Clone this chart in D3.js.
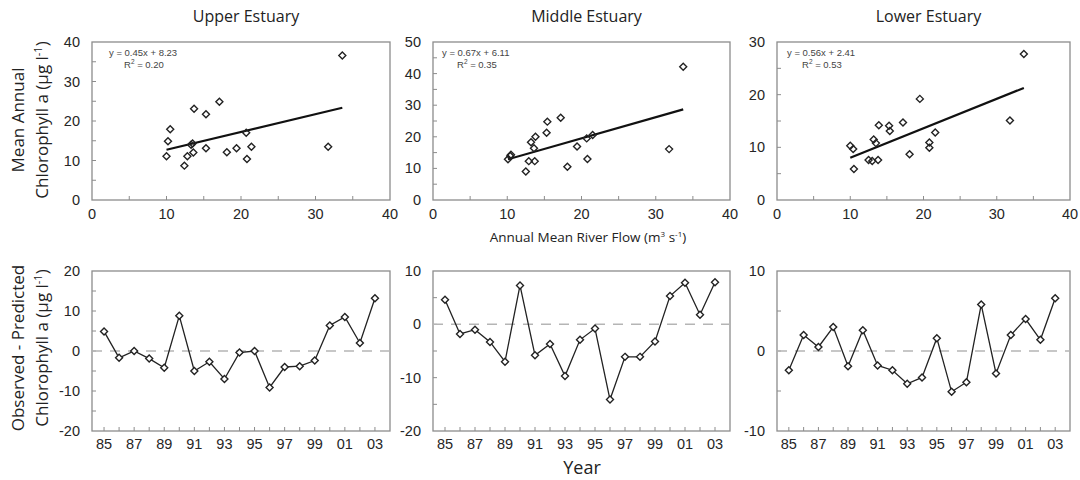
<!DOCTYPE html>
<html>
<head>
<meta charset="utf-8">
<script src="https://cdn.jsdelivr.net/npm/d3@7"></script>
<style>
  html, body { margin: 0; padding: 0; background: #fff; }
  .tick-label { font-family: "Liberation Sans", Arial, sans-serif; font-size: 14.5px; fill: #262626; }
  .title { font-family: "Open Sans", "Noto Sans", sans-serif; font-size: 16px; fill: #222; }
  .eq { font-family: "Liberation Sans", Arial, sans-serif; font-size: 9.5px; fill: #444; }
</style>
</head>
<body>
<div id="chart"></div>
<script>
// estuary panels
const panelNames = ["Upper Estuary", "Middle Estuary", "Lower Estuary"];

// scatter: annual mean river flow vs mean annual chlorophyll a
const flowUpper = [10.0, 10.2, 10.5, 12.4, 12.8, 13.3, 13.5, 13.6, 13.7, 15.3, 15.3, 17.1, 18.1, 19.4, 20.7, 20.8, 21.4, 31.7, 33.6];
const chlUpper  = [11.1, 14.9, 17.9, 8.7, 11.1, 14.0, 14.3, 12.0, 23.1, 13.1, 21.7, 24.9, 12.1, 13.1, 17.0, 10.4, 13.5, 13.5, 36.6];
const flowMiddle = [10.1, 10.4, 10.5, 12.5, 12.9, 13.2, 13.6, 13.7, 13.8, 15.3, 15.4, 17.2, 18.1, 19.4, 20.7, 20.8, 21.5, 31.8, 33.7];
const chlMiddle  = [12.9, 13.9, 14.3, 9.0, 12.3, 18.3, 16.4, 12.3, 20.0, 21.3, 24.8, 26.0, 10.5, 16.9, 19.5, 13.0, 20.6, 16.1, 42.2];
const flowLower = [10.0, 10.4, 10.5, 12.5, 13.0, 13.2, 13.5, 13.8, 13.9, 15.3, 15.4, 17.2, 18.1, 19.5, 20.8, 20.8, 21.6, 31.8, 33.7];
const chlLower  = [10.3, 9.7, 5.9, 7.6, 7.4, 11.5, 10.8, 7.6, 14.2, 14.1, 13.1, 14.7, 8.7, 19.2, 10.9, 9.9, 12.8, 15.1, 27.7];

// regression fits (slope, intercept, r2)
const slopes = [0.45, 0.67, 0.56];
const intercepts = [8.23, 6.11, 2.41];
const rSquared = ["0.20", "0.35", "0.53"];

// residuals: observed - predicted
const years = [1985, 1986, 1987, 1988, 1989, 1990, 1991, 1992, 1993, 1994, 1995, 1996, 1997, 1998, 1999, 2000, 2001, 2002, 2003];
const resUpper  = [4.9, -1.7, 0.0, -1.9, -4.2, 8.8, -5.0, -2.7, -7.0, -0.4, 0.0, -9.1, -4.0, -3.8, -2.4, 6.4, 8.5, 2.0, 13.2];
const resMiddle = [4.6, -1.8, -1.0, -3.3, -7.0, 7.3, -5.8, -3.7, -9.7, -2.9, -0.8, -14.1, -6.1, -6.1, -3.2, 5.3, 7.8, 1.8, 7.9];
const resLower  = [-2.4, 2.0, 0.5, 3.0, -1.9, 2.6, -1.8, -2.4, -4.1, -3.3, 1.6, -5.1, -3.9, 5.8, -2.8, 2.0, 4.0, 1.4, 6.6];

const yearTicks = [1985, 1987, 1989, 1991, 1993, 1995, 1997, 1999, 2001, 2003];
const scatterYMax = [40, 50, 30];
const resDomains = [[-20, 20], [-20, 10], [-10, 10]];

const flows = [flowUpper, flowMiddle, flowLower];
const chls = [chlUpper, chlMiddle, chlLower];
const residuals = [resUpper, resMiddle, resLower];

const width = 1080, height = 480;
const svg = d3.select("#chart").append("svg")
  .attr("width", width).attr("height", height);

const panelX = [[92, 390], [433, 730], [777, 1070]];
const topY = [42, 200], botY = [271, 431];
const eqOffset = [17, 9, 10];
const frameColor = "#8c8c8c";

const diamond = "M0,-3.5L3.5,0L0,3.5L-3.5,0Z";

function frame(g, x0, x1, y0, y1) {
  g.append("rect")
    .attr("x", x0).attr("y", y0)
    .attr("width", x1 - x0).attr("height", y1 - y0)
    .attr("fill", "none").attr("stroke", frameColor).attr("stroke-width", 1.3);
}

function ticksInside(g, x, y, xTicks, yTicks, x0, y1) {
  g.selectAll(".xt").data(xTicks).enter().append("line")
    .attr("x1", d => x(d)).attr("x2", d => x(d))
    .attr("y1", y1).attr("y2", y1 - 4)
    .attr("stroke", frameColor).attr("stroke-width", 1);
  g.selectAll(".yt").data(yTicks).enter().append("line")
    .attr("x1", x0).attr("x2", x0 + 4)
    .attr("y1", d => y(d)).attr("y2", d => y(d))
    .attr("stroke", frameColor).attr("stroke-width", 1);
}

panelNames.forEach((name, i) => {
  const [x0, x1] = panelX[i];

  // scatter panel
  const g = svg.append("g");
  const x = d3.scaleLinear().domain([0, 40]).range([x0, x1]);
  const y = d3.scaleLinear().domain([0, scatterYMax[i]]).range([topY[1], topY[0]]);

  frame(g, x0, x1, topY[0], topY[1]);
  ticksInside(g, x, y, d3.range(5, 40, 5), d3.range(5, scatterYMax[i], 5), x0, topY[1]);

  g.selectAll(".xl").data(d3.range(0, 41, 10)).enter().append("text")
    .attr("class", "tick-label")
    .attr("x", d => x(d)).attr("y", topY[1] + 19)
    .attr("text-anchor", "middle").text(d => d);
  g.selectAll(".yl").data(d3.range(0, scatterYMax[i] + 1, 10)).enter().append("text")
    .attr("class", "tick-label")
    .attr("x", x0 - 12).attr("y", d => y(d) + 5)
    .attr("text-anchor", "end").text(d => d);

  g.append("text").attr("class", "title")
    .attr("x", (x0 + x1) / 2 + 5).attr("y", 22)
    .attr("text-anchor", "middle").text(name);

  const pts = flows[i].map((f, k) => [f, chls[i][k]]);
  const xmin = d3.min(flows[i]), xmax = d3.max(flows[i]);
  g.append("line")
    .attr("x1", x(xmin)).attr("y1", y(slopes[i] * xmin + intercepts[i]))
    .attr("x2", x(xmax)).attr("y2", y(slopes[i] * xmax + intercepts[i]))
    .attr("stroke", "#111").attr("stroke-width", 2.2);

  g.selectAll(".pt").data(pts).enter().append("path")
    .attr("d", diamond)
    .attr("transform", d => `translate(${x(d[0])},${y(d[1])})`)
    .attr("fill", "none").attr("stroke", "#222").attr("stroke-width", 1.4);

  g.append("text").attr("class", "eq")
    .attr("x", x0 + eqOffset[i]).attr("y", topY[0] + 14)
    .text(`y = ${slopes[i].toFixed(2)}x + ${intercepts[i].toFixed(2)}`);
  const r2 = g.append("text").attr("class", "eq")
    .attr("x", x0 + eqOffset[i] + 15).attr("y", topY[0] + 26);
  r2.append("tspan").text("R");
  r2.append("tspan").attr("dy", -4).attr("font-size", "6.5px").text("2");
  r2.append("tspan").attr("dy", 4).text(` = ${rSquared[i]}`);

  // residual panel
  const gb = svg.append("g");
  const xb = d3.scaleLinear().domain([1984.2, 2004]).range([x0, x1]);
  const yb = d3.scaleLinear().domain(resDomains[i]).range([botY[1], botY[0]]);

  frame(gb, x0, x1, botY[0], botY[1]);
  const [lo, hi] = resDomains[i];
  ticksInside(gb, xb, yb, years, d3.range(lo + 5, hi, 5), x0, botY[1]);

  gb.selectAll(".xl").data(yearTicks).enter().append("text")
    .attr("class", "tick-label")
    .attr("x", d => xb(d)).attr("y", botY[1] + 18)
    .attr("text-anchor", "middle").text(d => String(d).slice(2));
  gb.selectAll(".yl").data(d3.range(lo, hi + 1, 10)).enter().append("text")
    .attr("class", "tick-label")
    .attr("x", x0 - 12).attr("y", d => yb(d) + 5)
    .attr("text-anchor", "end").text(d => d);

  gb.append("line")
    .attr("x1", x0).attr("x2", x1)
    .attr("y1", yb(0)).attr("y2", yb(0))
    .attr("stroke", "#b5b5b5").attr("stroke-width", 1.5)
    .attr("stroke-dasharray", "10,8");

  const line = d3.line().x((d, k) => xb(years[k])).y(d => yb(d));
  gb.append("path").datum(residuals[i])
    .attr("d", line).attr("fill", "none")
    .attr("stroke", "#222").attr("stroke-width", 1.3);

  gb.selectAll(".pt").data(residuals[i]).enter().append("path")
    .attr("d", diamond)
    .attr("transform", (d, k) => `translate(${xb(years[k])},${yb(d)})`)
    .attr("fill", "#fff").attr("stroke", "#222").attr("stroke-width", 1.4);
});

// axis titles
function yTitle(cx, cy, line1) {
  const t = svg.append("g").attr("transform", `translate(${cx},${cy}) rotate(-90)`)
    .attr("font-family", "'Open Sans', 'Noto Sans', sans-serif")
    .attr("font-size", "17px").attr("fill", "#222");
  t.append("text").attr("text-anchor", "middle").attr("y", 0).text(line1);
  const l2 = t.append("text").attr("text-anchor", "middle").attr("y", 24);
  l2.append("tspan").text("Chlorophyll a (\u00b5g l");
  l2.append("tspan").attr("dy", -6).attr("font-size", "11px").text("-1");
  l2.append("tspan").attr("dy", 6).text(")");
}
yTitle(24, 120, "Mean Annual");
yTitle(24, 348, "Observed - Predicted");

const xt = svg.append("text")
  .attr("x", 588).attr("y", 242).attr("text-anchor", "middle")
  .attr("font-family", "'Open Sans', 'Noto Sans', sans-serif")
  .attr("font-size", "13.5px").attr("fill", "#222");
xt.append("tspan").text("Annual Mean River Flow (m");
xt.append("tspan").attr("dy", -5).attr("font-size", "8px").text("3");
xt.append("tspan").attr("dy", 5).text(" s");
xt.append("tspan").attr("dy", -5).attr("font-size", "8px").text("-1");
xt.append("tspan").attr("dy", 5).text(")");

svg.append("text")
  .attr("x", 582).attr("y", 474).attr("text-anchor", "middle")
  .attr("font-family", "'Open Sans', 'Noto Sans', sans-serif")
  .attr("font-size", "18px").attr("fill", "#222").text("Year");
</script>
</body>
</html>
